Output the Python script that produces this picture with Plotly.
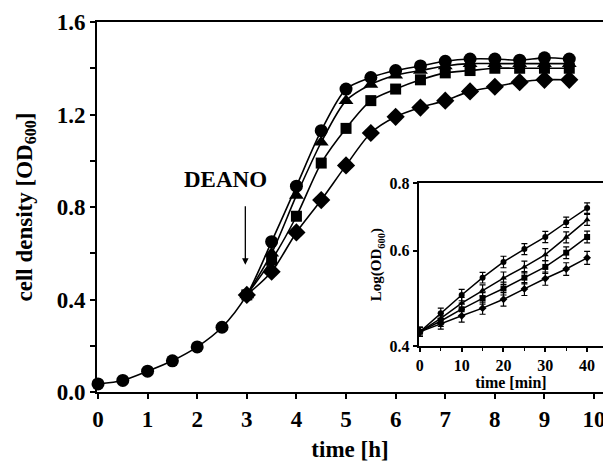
import plotly.graph_objects as go

# main chart data
t_h = [0, 0.5, 1, 1.5, 2, 2.5, 3, 3.5, 4, 4.5, 5, 5.5, 6, 6.5, 7, 7.5, 8, 8.5, 9, 9.5]
od_circle = [0.035, 0.05, 0.09, 0.135, 0.195, 0.28, 0.42, 0.65, 0.89, 1.13, 1.31, 1.36, 1.39, 1.41, 1.43, 1.44, 1.44, 1.435, 1.445, 1.44]
t_h_treat = [3, 3.5, 4, 4.5, 5, 5.5, 6, 6.5, 7, 7.5, 8, 8.5, 9, 9.5]
od_triangle = [0.42, 0.60, 0.85, 1.08, 1.26, 1.33, 1.37, 1.39, 1.41, 1.42, 1.42, 1.42, 1.42, 1.42]
od_square = [0.42, 0.57, 0.76, 0.99, 1.14, 1.26, 1.31, 1.35, 1.38, 1.39, 1.40, 1.40, 1.40, 1.40]
od_diamond = [0.42, 0.52, 0.69, 0.83, 0.98, 1.12, 1.19, 1.23, 1.26, 1.30, 1.32, 1.34, 1.35, 1.35]

# inset data
t_min = [0, 5, 10, 15, 20, 25, 30, 35, 40]
log_circle = [0.425, 0.46, 0.497, 0.535, 0.572, 0.604, 0.636, 0.677, 0.719]
log_triangle = [0.425, 0.45, 0.48, 0.507, 0.534, 0.56, 0.59, 0.635, 0.684]
log_square = [0.425, 0.445, 0.468, 0.49, 0.511, 0.535, 0.56, 0.595, 0.636]
log_diamond = [0.425, 0.44, 0.455, 0.47, 0.488, 0.51, 0.533, 0.555, 0.582]
err_inset = [0.008, 0.01, 0.012, 0.012, 0.014, 0.014, 0.015, 0.015, 0.016]

x_ticks_main = [0, 1, 2, 3, 4, 5, 6, 7, 8, 9, 10]
y_ticks_main = [0.0, 0.4, 0.8, 1.2, 1.6]
x_ticks_inset = [0, 10, 20, 30, 40]
y_ticks_inset = [0.4, 0.6, 0.8]

FONT = "Liberation Serif"
BLACK = "#000000"

fig = go.Figure()

main_series = [
    (t_h, od_circle, "circle", 13),
    (t_h_treat, od_triangle, "triangle-up", 13),
    (t_h_treat, od_square, "square", 11),
    (t_h_treat, od_diamond, "diamond", 14),
]
for xs, ys, sym, sz in main_series:
    fig.add_trace(go.Scatter(
        x=xs, y=ys, mode="lines+markers",
        line=dict(color=BLACK, width=1.6, shape="spline", smoothing=0.8),
        marker=dict(symbol=sym, size=sz, color=BLACK),
        showlegend=False, xaxis="x", yaxis="y", cliponaxis=False))

inset_series = [
    (log_circle, "circle"),
    (log_triangle, "triangle-up"),
    (log_square, "square"),
    (log_diamond, "diamond"),
]
for ys, sym in inset_series:
    fig.add_trace(go.Scatter(
        x=t_min, y=ys, mode="lines+markers",
        line=dict(color=BLACK, width=1.5),
        marker=dict(symbol=sym, size=6, color=BLACK),
        error_y=dict(type="data", array=err_inset, color=BLACK, thickness=1.2, width=3),
        showlegend=False, xaxis="x2", yaxis="y2"))

axis_common = dict(showline=True, linecolor=BLACK, linewidth=2, showgrid=False, automargin=False,
                   zeroline=False, ticks="outside", tickcolor=BLACK, tickwidth=1.5,
                   ticklabeloverflow="allow")

fig.update_layout(
    width=603, height=462,
    margin=dict(l=97, r=0, t=22, b=70, autoexpand=False),
    paper_bgcolor="white", plot_bgcolor="white",
    font=dict(family=FONT, color=BLACK, weight="bold"),
    xaxis=dict(**axis_common, domain=[0, 1], range=[-0.02, 10.18], mirror=True,
               tickvals=x_ticks_main, ticklen=5,
               tickfont=dict(family=FONT, size=23, weight="bold"),
               title=dict(text="time [h]", font=dict(family=FONT, size=23, weight="bold"), standoff=12)),
    yaxis=dict(**axis_common, domain=[0, 1], range=[0, 1.6],
               tickvals=y_ticks_main, ticktext=["0.0", "0.4", "0.8", "1.2", "1.6"], ticklen=5,
               minor=dict(dtick=0.2, ticks="outside", ticklen=5, tickcolor=BLACK, tickwidth=1.5, showgrid=False),
               tickfont=dict(family=FONT, size=23, weight="bold"),
               title=dict(text="cell density [OD<sub>600</sub>]", font=dict(family=FONT, size=23, weight="bold"), standoff=18)),
    xaxis2=dict(**axis_common, domain=[0.636, 1], range=[-0.25, 43.8], mirror=True,
                anchor="y2", tickvals=x_ticks_inset, ticklen=4,
                minor=dict(dtick=5, ticks="outside", ticklen=3, tickcolor=BLACK, tickwidth=1.2, showgrid=False),
                tickfont=dict(family=FONT, size=16, weight="bold"),
                title=dict(text="time [min]", font=dict(family=FONT, size=16, weight="bold"), standoff=1)),
    yaxis2=dict(**axis_common, domain=[0.124, 0.565], anchor="x2", type="log",
                range=[-0.39794, -0.09691],
                tickvals=y_ticks_inset, ticktext=["0.4", "0.6", "0.8"], ticklen=4,
                tickfont=dict(family=FONT, size=16, weight="bold"),
                title=dict(text="Log(OD<sub>600</sub>)", font=dict(family=FONT, size=15, weight="bold"), standoff=4)),
)

fig.add_annotation(x=2.58, y=0.917, xref="x", yref="y", text="DEANO", showarrow=False,
                   font=dict(family=FONT, size=23, weight="bold"))
fig.add_annotation(x=2.97, y=0.55, ax=2.97, ay=0.81, xref="x", yref="y", axref="x", ayref="y",
                   text="", showarrow=True, arrowhead=2, arrowsize=1, arrowwidth=1.3, arrowcolor=BLACK)

fig.write_html("out.html", config={"displayModeBar": False},
               post_script="document.body.style.margin='0';document.body.style.padding='0';")
